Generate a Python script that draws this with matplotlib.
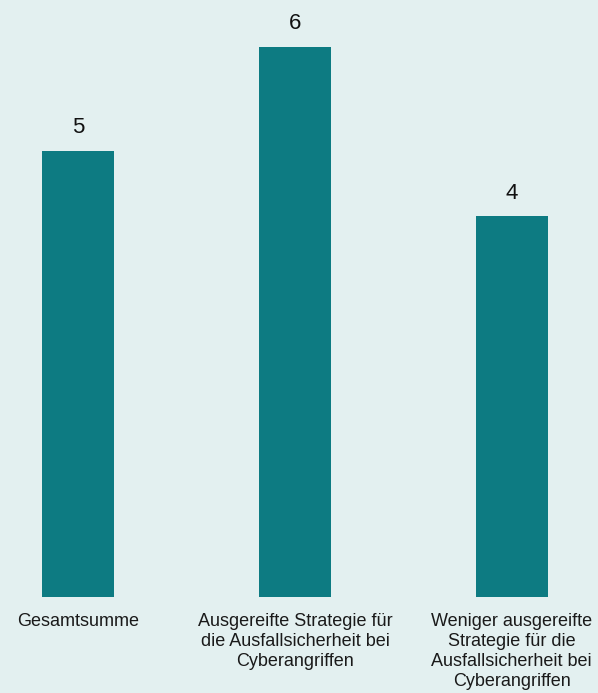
import matplotlib.pyplot as plt

categories = ["Gesamtsumme",
              "Ausgereifte Strategie für\ndie Ausfallsicherheit bei\nCyberangriffen",
              "Weniger ausgereifte\nStrategie für die\nAusfallsicherheit bei\nCyberangriffen"]
values = [5.19, 6.4, 4.43]

plt.rcParams['font.family'] = ['Liberation Sans', 'DejaVu Sans']
bg = "#e3f0f0"

fig = plt.figure(figsize=(5.98, 6.93), dpi=100, facecolor=bg)
ax = fig.add_axes([0, 0.138, 1, 0.862], facecolor=bg)

x = range(len(categories))
bars = ax.bar(x, values, width=0.334, color="#0d7b82")
for b, v in zip(bars, values):
    ax.annotate("%.0f" % v, (b.get_x() + b.get_width() / 2, v),
                xytext=(0, 9), textcoords="offset points",
                ha="center", va="bottom", fontsize=16, color="#111111")

ax.set_xlim(-0.3607, 2.3976)
ax.set_ylim(0, 6.943)
ax.set_xticks(list(x))
ax.set_xticklabels(categories, fontsize=13, color="#1a1a1a", linespacing=1.25)
ax.tick_params(axis="x", length=0, pad=11)
ax.set_yticks([])
for s in ax.spines.values():
    s.set_visible(False)

fig.savefig("out.png", dpi=100, facecolor=bg)
